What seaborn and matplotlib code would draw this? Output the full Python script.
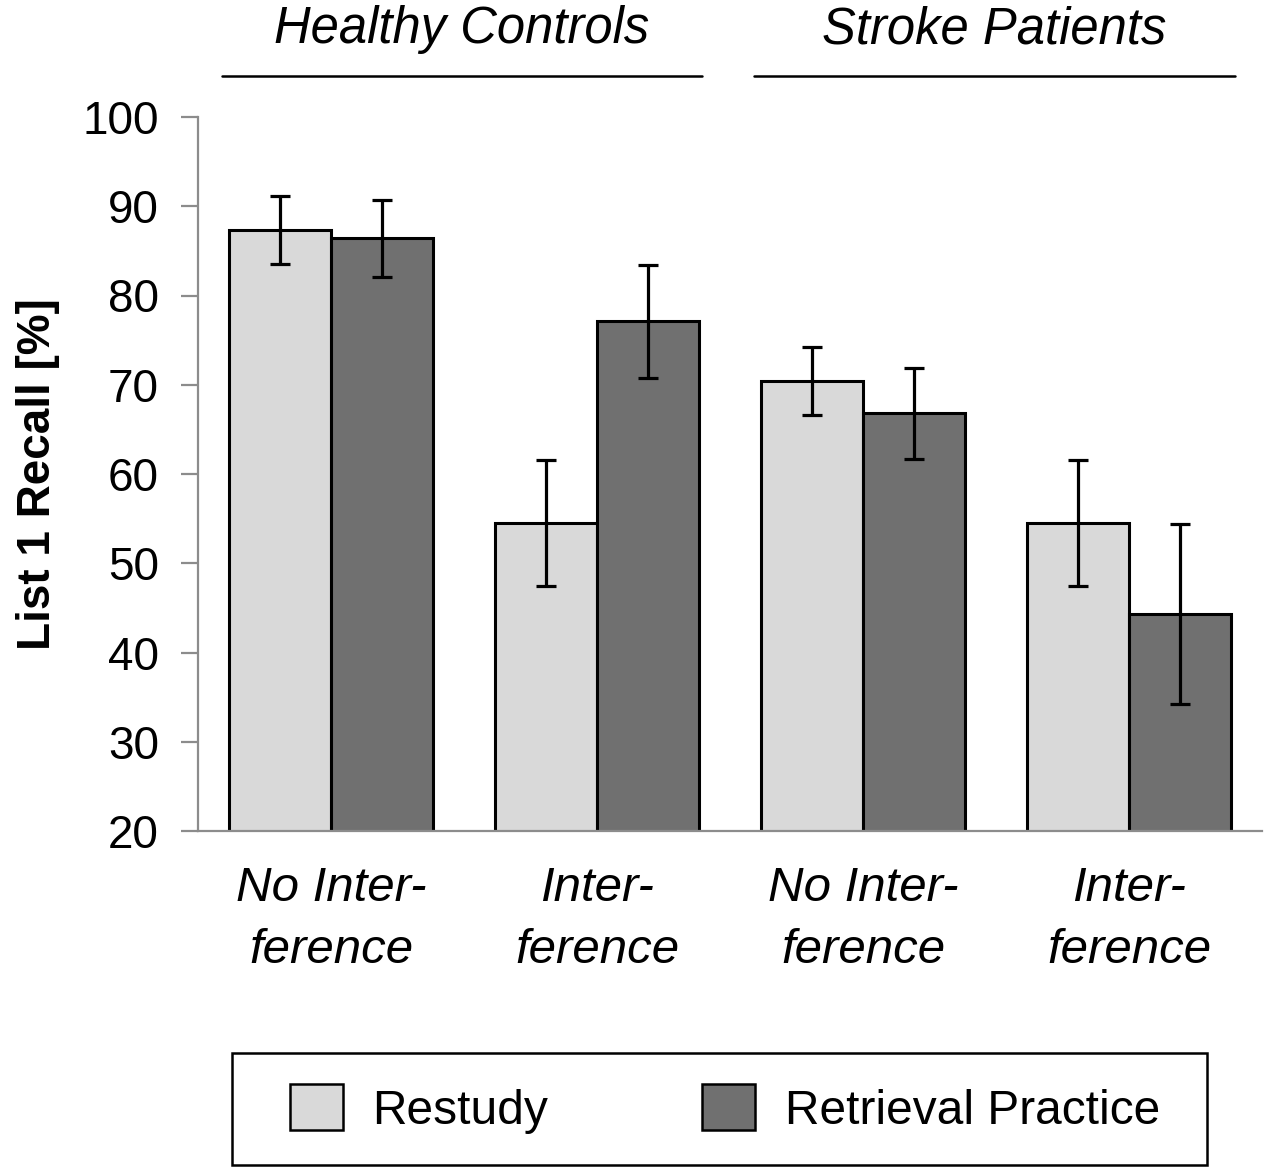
import numpy as np
import pandas as pd
import matplotlib
matplotlib.use("Agg")
import matplotlib.pyplot as plt
import matplotlib.transforms as mtransforms
import seaborn as sns


# values
categories = ["HC No Interference", "HC Interference", "SP No Interference", "SP Interference"]
tick_labels = ["No Inter-\nference", "Inter-\nference", "No Inter-\nference", "Inter-\nference"]
conditions = ["Restudy", "Retrieval Practice"]
restudy = [87.3, 54.5, 70.4, 54.5]
restudy_err = [3.8, 7.1, 3.8, 7.05]
retrieval = [86.4, 77.1, 66.8, 44.3]
retrieval_err = [4.35, 6.3, 5.1, 10.1]
groups = ["Healthy Controls", "Stroke Patients"]

colors = ["#d9d9d9", "#707070"]


def build_frame():
    rows = []
    for cat, m, e in zip(categories, restudy, restudy_err):
        rows.append({"category": cat, "condition": conditions[0], "recall": m, "err": e})
    for cat, m, e in zip(categories, retrieval, retrieval_err):
        rows.append({"category": cat, "condition": conditions[1], "recall": m, "err": e})
    return pd.DataFrame(rows)


def plot_bars(df):
    sns.set_style("white")
    plt.rcParams["font.family"] = ["Liberation Sans", "DejaVu Sans"]
    plt.rcParams["text.color"] = "black"
    plt.rcParams["axes.labelcolor"] = "black"
    plt.rcParams["xtick.color"] = "black"
    plt.rcParams["ytick.color"] = "black"

    fig = plt.figure(figsize=(12.7, 11.74), dpi=100)
    ax = fig.add_axes([198 / 1270, 1 - 831 / 1174, (1262 - 198) / 1270, (831 - 117) / 1174])

    sns.barplot(data=df, x="category", y="recall", hue="condition", order=categories,
                hue_order=conditions, palette=colors, width=0.767, gap=0,
                edgecolor="black", linewidth=2.2, errorbar=None, legend=False, ax=ax)

    # error bars at the bar centres
    for cont, cond in zip(ax.containers, conditions):
        sub = df[df["condition"] == cond].set_index("category").loc[categories]
        xs = [p.get_x() + p.get_width() / 2 for p in cont.patches]
        ax.errorbar(xs, sub["recall"], yerr=sub["err"], fmt="none", ecolor="black",
                    elinewidth=2.3, capsize=7, capthick=2.3, zorder=5)

    ax.set_xlim(-0.5, 3.5)
    ax.set_ylim(20, 100)
    ax.set_yticks(np.arange(20, 101, 10))
    ax.set_xticks(range(len(categories)))
    ax.set_xticklabels(tick_labels, fontsize=35.5, fontstyle="italic", linespacing=1.5)
    ax.tick_params(axis="x", length=0, pad=25)
    ax.tick_params(axis="y", length=12, width=1.6, color="#8c8c8c", labelcolor="black",
                   labelsize=33, pad=16, direction="out", left=True)
    ax.set_xlabel("")
    ax.set_ylabel("List 1 Recall [%]", fontsize=33, fontweight="bold", labelpad=16)

    for side in ["top", "right"]:
        ax.spines[side].set_visible(False)
    for side in ["left", "bottom"]:
        ax.spines[side].set_color("#8c8c8c")
        ax.spines[side].set_linewidth(1.6)

    # group headers above the bars
    trans = mtransforms.blended_transform_factory(ax.transData, ax.transAxes)
    spans = [(-0.41, 1.395), (1.59, 3.4)]
    for name, (x0, x1) in zip(groups, spans):
        ax.plot([x0, x1], [1.057, 1.057], color="black", lw=1.8, transform=trans, clip_on=False)
        ax.text((x0 + x1) / 2, 1.122, name, transform=trans, ha="center", va="center",
                fontsize=36.5, fontstyle="italic")

    # legend box drawn separately so the entries can sit inset from it
    fig.patches.append(plt.Rectangle((232 / 1270, 1 - 1165 / 1174), 975 / 1270, 112 / 1174,
                                     transform=fig.transFigure, facecolor="white",
                                     edgecolor="black", linewidth=1.8))
    handles = [plt.Rectangle((0, 0), 1, 1, facecolor=c, edgecolor="black", linewidth=1.8)
               for c in colors]
    fig.legend(handles, conditions, loc="center", ncol=2, mode="expand",
               bbox_to_anchor=(290 / 1270, 1 - 1165 / 1174, 870 / 1270, 112 / 1174),
               fontsize=34.5, frameon=False,
               handlelength=1.1, handleheight=1.1, handletextpad=0.62,
               borderpad=0, borderaxespad=0)

    plt.savefig("out.png", dpi=100)
    plt.close()


if __name__ == "__main__":
    df = build_frame()
    plot_bars(df)
